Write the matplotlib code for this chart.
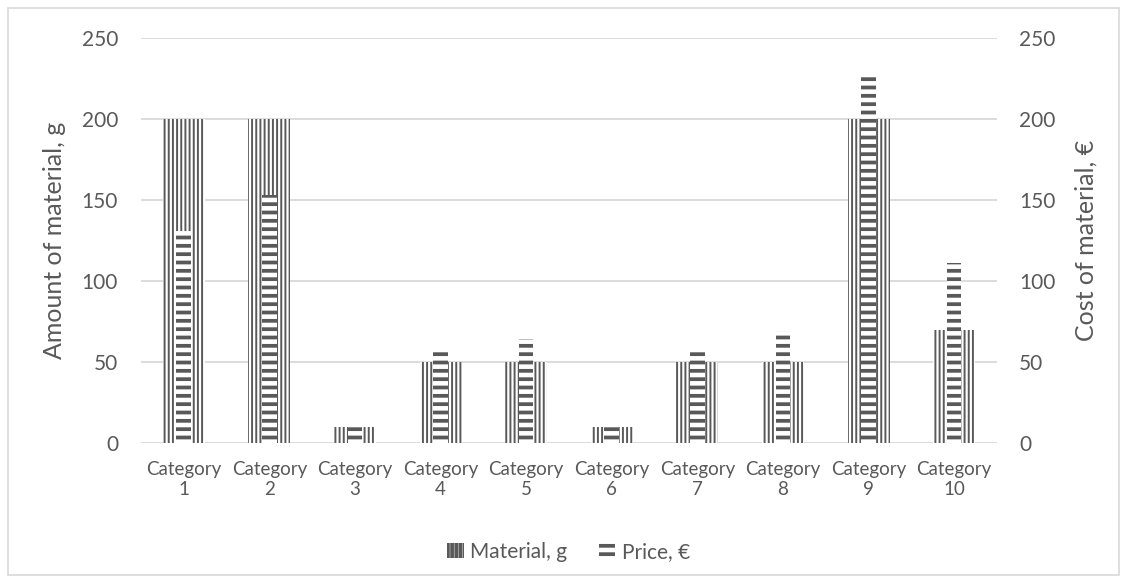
import matplotlib
matplotlib.use("Agg")
import matplotlib.pyplot as plt
from matplotlib.patches import Rectangle, Patch
import numpy as np

categories = ["Category\n1", "Category\n2", "Category\n3", "Category\n4", "Category\n5",
              "Category\n6", "Category\n7", "Category\n8", "Category\n9", "Category\n10"]
material_g = [200, 200, 10, 50, 50, 10, 50, 50, 200, 70]
price_eur = [131, 153, 12, 56, 64, 12, 56, 69, 228, 111]
y_ticks = [0, 50, 100, 150, 200, 250]

text_color = "#595959"
bar_color = "#595959"
grid_color = "#D9D9D9"
font = ["Lato", "DejaVu Sans"]

plt.rcParams["font.family"] = font
plt.rcParams["hatch.color"] = bar_color

fig = plt.figure(figsize=(11.26, 5.82), dpi=100)
ax = fig.add_axes([0.1252, 0.2388, 0.7602, 0.6959])
ax2 = ax.twinx()

x = np.arange(len(categories))

# material: wide bars with fine vertical stripes (left axis)
plt.rcParams["hatch.linewidth"] = 1.4
ax.bar(x, material_g, width=0.49, color="white", edgecolor=bar_color,
       hatch="||||", linewidth=0, zorder=2)
mat_handle = Patch(facecolor="white", edgecolor=bar_color, hatch="||||", linewidth=0)

# price: narrow bars with thick horizontal stripes (right axis)
plt.rcParams["hatch.linewidth"] = 2.7
ax2.bar(x, price_eur, width=0.17, color="white", edgecolor=bar_color,
        hatch="--", linewidth=0, zorder=2)
price_handle = Patch(facecolor="white", edgecolor=bar_color, hatch="--", linewidth=0)

for a, pad in ((ax, 16.5), (ax2, 16)):
    a.set_ylim(0, 250)
    a.set_yticks(y_ticks)
    a.set_xlim(-0.5, len(categories) - 0.5)
    for s in a.spines.values():
        s.set_visible(False)
    a.tick_params(axis="y", length=0, labelsize=15, colors=text_color, pad=pad)

ax.set_zorder(ax2.get_zorder() - 1)
ax2.patch.set_visible(False)
ax.yaxis.grid(True, color=grid_color, linewidth=1.3, zorder=0)
ax.set_axisbelow(True)
ax.set_xticks(x)
ax.set_xticklabels(categories, fontsize=13.5, color=text_color, linespacing=1.2)
ax.tick_params(axis="x", length=0, pad=13)

ax.set_ylabel("Amount of material, g", fontsize=18, color=text_color, labelpad=11)
ax2.set_ylabel("Cost of material, €", fontsize=18, color=text_color, labelpad=14)

fig.legend([mat_handle, price_handle], ["Material, g", "Price, €"], loc="center",
           bbox_to_anchor=(0.505, 0.052), ncol=2, frameon=False, fontsize=15,
           labelcolor=text_color, handlelength=0.8, handleheight=0.7,
           columnspacing=1.5, handletextpad=0.3)

fig.patches.append(Rectangle((0.007, 0.012), 0.987, 0.975, transform=fig.transFigure,
                             fill=False, edgecolor="#D9D9D9", linewidth=1.2))

fig.savefig("out.png", dpi=100, facecolor="white")
